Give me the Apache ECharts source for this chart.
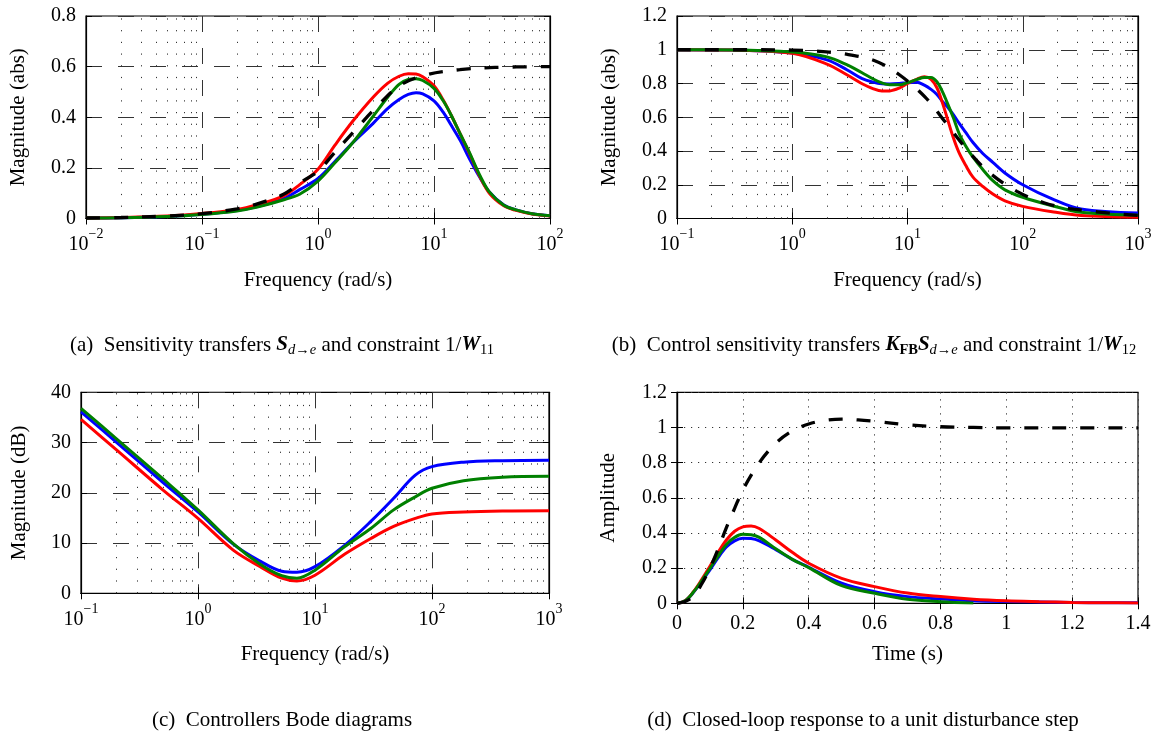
<!DOCTYPE html>
<html><head><meta charset="utf-8">
<script src="https://cdn.jsdelivr.net/npm/echarts@6/dist/echarts.min.js"></script>
<style>html,body{margin:0;padding:0;background:#fff}#c{width:1162px;height:736px}</style>
</head><body><div id="c"></div>
<script>
// ---------- data ----------
// (a) sensitivity |S d->e|
const freqA   = [0.01,0.02,0.05,0.1,0.2,0.3,0.5,0.7,1,1.4,2,3,4,5,6,7,8,10,12,14,17,20,25,30,40,50,70,100];
const sensBlue  = [0.002,0.003,0.008,0.017,0.032,0.047,0.078,0.115,0.158,0.225,0.3,0.377,0.435,0.47,0.49,0.497,0.492,0.465,0.42,0.37,0.305,0.24,0.16,0.105,0.053,0.035,0.019,0.011];
const sensRed   = [0.002,0.004,0.01,0.02,0.036,0.055,0.088,0.135,0.195,0.29,0.385,0.48,0.535,0.562,0.572,0.571,0.56,0.524,0.468,0.41,0.33,0.262,0.163,0.1,0.05,0.033,0.018,0.01];
const sensGreen = [0.002,0.003,0.008,0.016,0.03,0.045,0.073,0.097,0.148,0.22,0.3,0.405,0.48,0.53,0.549,0.552,0.545,0.514,0.465,0.41,0.33,0.265,0.168,0.105,0.052,0.035,0.019,0.011];
const freqAW  = [0.01,0.02,0.05,0.1,0.2,0.3,0.5,0.75,1,1.36,2.08,3.1,5.1,8.6,16.7,33.6,100];
const sensW11 = [0.002,0.004,0.01,0.019,0.038,0.058,0.095,0.15,0.186,0.255,0.348,0.434,0.526,0.568,0.588,0.597,0.6];

// (b) control sensitivity |K_FB S d->e|
const freqB   = [0.1,0.3,1,2,3,4,5,6,7,8.5,10,12,14,16,18,20,22,25,28,32,37,45,55,70,100,180,320,1000];
const ctrlBlue  = [1,0.998,0.98,0.94,0.88,0.83,0.808,0.798,0.797,0.8,0.805,0.807,0.79,0.765,0.735,0.695,0.665,0.615,0.565,0.51,0.45,0.385,0.333,0.27,0.2,0.116,0.056,0.032];
const ctrlRed   = [1,0.998,0.979,0.915,0.85,0.8,0.77,0.755,0.756,0.773,0.8,0.825,0.84,0.825,0.775,0.69,0.6,0.478,0.39,0.315,0.245,0.19,0.145,0.105,0.072,0.04,0.018,0.008];
const ctrlGreen = [1,0.999,0.987,0.958,0.91,0.865,0.828,0.803,0.792,0.792,0.805,0.823,0.836,0.836,0.81,0.755,0.69,0.597,0.505,0.43,0.363,0.29,0.224,0.17,0.126,0.076,0.037,0.02];
const freqBW  = [0.1,0.5,1,1.6,2.85,5.2,8.5,14.3,21.7,33.4,50.8,89,155,276,1000];
const ctrlW12 = [1,1,0.998,0.992,0.975,0.935,0.852,0.718,0.564,0.402,0.274,0.161,0.092,0.055,0.018];

// (c) controllers Bode magnitude (dB)
const freqC   = [0.1,0.2,0.5,1,2,3.4,5.2,7,10,18,30,47,72,100,186,400,1000];
const bodeBlue  = [36.1,30.1,22.1,16.2,9.8,6.4,4.4,4.2,5.3,9.6,14.3,18.9,23.5,25.2,26.1,26.4,26.5];
const bodeRed   = [34.6,28.6,20.6,14.9,8.6,5.3,3.0,2.45,3.6,7.8,10.9,13.3,14.9,15.8,16.2,16.4,16.45];
const bodeGreen = [36.8,30.8,22.8,16.6,9.9,5.8,3.5,3.0,4.6,9.3,12.9,16.6,19.2,20.9,22.4,23.1,23.3];

// (d) closed-loop disturbance step response
const timeD   = [0,0.025,0.05,0.075,0.1,0.125,0.15,0.175,0.2,0.225,0.25,0.3,0.35,0.4,0.5,0.6,0.7,0.8,0.9,1.0,1.1,1.2,1.3,1.4];
const stepBlue  = [0,0.014,0.062,0.125,0.19,0.26,0.32,0.355,0.37,0.368,0.355,0.305,0.25,0.205,0.114,0.066,0.038,0.025,0.015,0.01,0.007,0.004,0.003,0.003];
const stepRed   = [0,0.015,0.066,0.135,0.21,0.29,0.36,0.41,0.435,0.44,0.425,0.36,0.29,0.228,0.142,0.095,0.058,0.038,0.023,0.014,0.009,0.005,0.003,0.002];
const stepGreen = [0,0.014,0.064,0.128,0.198,0.27,0.335,0.375,0.392,0.39,0.375,0.31,0.25,0.203,0.1,0.057,0.023,0.009,0.001];
const timeDW  = [0,0.025,0.05,0.075,0.1,0.125,0.15,0.175,0.2,0.25,0.3,0.35,0.4,0.45,0.5,0.55,0.6,0.7,0.8,0.9,1.0,1.2,1.4];
const stepRef = [0,0.01,0.04,0.11,0.2,0.31,0.43,0.54,0.645,0.8,0.91,0.98,1.02,1.04,1.047,1.043,1.035,1.015,1.004,1.0,0.998,0.998,0.998];

// tick values [min, max, interval]
const yTicksA = [0,0.8,0.2], yTicksB = [0,1.2,0.2], yTicksC = [0,40,10], yTicksD = [0,1.2,0.2], xTicksD = [0,1.4,0.2];

// ---------- chart ----------
const FONT = 'Liberation Serif';
const BLUE = '#0000ff', RED = '#ff0000', GREEN = '#008000';
const LAB = 20, SUP = 14, NAME = 21, CAP = 21, CAPSUB = 14.5;
const zip = (xs, ys) => ys.map((y, i) => [xs[i], y]);
function minorDecades(lo, hi) { const out = []; for (let e = lo; e < hi; e++) for (let m = 2; m <= 9; m++) out.push(m * Math.pow(10, e)); return out; }
const MINUS = '\u2212';

const grids = [
  {left: 86, top: 16, width: 464, height: 202.5},
  {left: 677, top: 16, width: 461, height: 202.5},
  {left: 81, top: 392.3, width: 468, height: 201},
  {left: 677, top: 392.3, width: 461, height: 211}
].map(g => Object.assign({show: true, borderColor: '#000', borderWidth: 1.2, backgroundColor: 'transparent', outerBoundsMode: 'none', containLabel: false}, g));

const majorDash = {color: '#333', width: 1, type: [16, 16]};
const dotGrid = {color: '#333', width: 1, type: [1.2, 5.8]};
const axisLineS = {show: true, lineStyle: {color: '#000', width: 1.2}};
const tickS = {show: true, inside: true, length: 6, lineStyle: {color: '#000', width: 1}};
const nameS = {fontFamily: FONT, fontSize: NAME, color: '#000'};

function logX(i, min, max, name, gap) {
  return {
    type: 'log', logBase: 10, gridIndex: i, min: min, max: max,
    axisLine: axisLineS, axisTick: tickS,
    axisLabel: {
      margin: 9,
      formatter: v => { const e = Math.round(Math.log10(v)); return '{b|10}{s|' + (e < 0 ? MINUS + (-e) : e) + '}'; },
      rich: {
        b: {fontFamily: FONT, fontSize: LAB, lineHeight: 27, verticalAlign: 'bottom', color: '#000'},
        s: {fontFamily: FONT, fontSize: SUP, lineHeight: 14, verticalAlign: 'top', color: '#000'}
      }
    },
    splitLine: {show: true, lineStyle: majorDash},
    name: name, nameLocation: 'middle', nameGap: gap, nameTextStyle: nameS
  };
}
function valY(i, t, name, gap, split) {
  return {
    type: 'value', gridIndex: i, min: t[0], max: t[1], interval: t[2],
    axisLine: axisLineS, axisTick: tickS,
    axisLabel: {margin: 10, fontFamily: FONT, fontSize: LAB, color: '#000'},
    splitLine: {show: true, lineStyle: split},
    name: name, nameLocation: 'middle', nameGap: gap, nameTextStyle: nameS
  };
}
function topX(i, base) {
  return Object.assign({}, base, {position: 'top', axisLabel: {show: false}, splitLine: {show: false}, name: '', gridIndex: i});
}
function rightY(i, base) {
  return Object.assign({}, base, {position: 'right', axisLabel: {show: false}, splitLine: {show: false}, name: '', gridIndex: i});
}

const xA = logX(0, 0.01, 100, 'Frequency (rad/s)', 51);
const xB = logX(1, 0.1, 1000, 'Frequency (rad/s)', 51);
const xC = logX(2, 0.1, 1000, 'Frequency (rad/s)', 51);
const xD = {
  type: 'value', gridIndex: 3, min: xTicksD[0], max: xTicksD[1], interval: xTicksD[2],
  axisLine: axisLineS, axisTick: tickS,
  axisLabel: {margin: 10, fontFamily: FONT, fontSize: LAB, color: '#000'},
  splitLine: {show: true, lineStyle: dotGrid},
  name: 'Time (s)', nameLocation: 'middle', nameGap: 41, nameTextStyle: nameS
};
const yA = valY(0, yTicksA, 'Magnitude (abs)', 57, majorDash);
const yB = valY(1, yTicksB, 'Magnitude (abs)', 57, majorDash);
const yC = valY(2, yTicksC, 'Magnitude (dB)', 51, majorDash);
const yD = valY(3, yTicksD, 'Amplitude', 58, dotGrid);

function minorSeries(i, lo, hi, xmin, ymin) {
  return {
    type: 'line', xAxisIndex: i, yAxisIndex: i, data: [[xmin, ymin]], showSymbol: false, silent: true, z: 1,
    lineStyle: {width: 0, opacity: 0},
    markLine: {
      silent: true, z: 1, symbol: ['none', 'none'], label: {show: false}, animation: false,
      emphasis: {disabled: true},
      lineStyle: {color: '#333', width: 1, type: [1.2, 10.5]},
      data: minorDecades(lo, hi).map(v => ({xAxis: v}))
    }
  };
}
function curve(i, xs, ys, color, dashed) {
  return {
    type: 'line', xAxisIndex: i, yAxisIndex: i, data: zip(xs, ys), showSymbol: false, smooth: 0.35, silent: true,
    z: dashed ? 6 : 3,
    lineStyle: {color: color, width: dashed ? 3.3 : 3, type: dashed ? [14, 14] : 'solid'}
  };
}

const capRich = {
  bi: {fontFamily: FONT, fontSize: CAP, lineHeight: 26, fontStyle: 'italic', fontWeight: 'bold', color: '#000'},
  sub: {fontFamily: FONT, fontSize: CAPSUB, lineHeight: 14, fontStyle: 'italic', verticalAlign: 'bottom', color: '#000'},
  subn: {fontFamily: FONT, fontSize: CAPSUB, lineHeight: 14, verticalAlign: 'bottom', color: '#000'},
  bsub: {fontFamily: FONT, fontSize: CAPSUB, lineHeight: 14, fontWeight: 'bold', verticalAlign: 'bottom', color: '#000'}
};
function caption(text, x, y) {
  return {text: text, left: x, top: y, textAlign: 'center', padding: 0,
    textStyle: {fontFamily: FONT, fontSize: CAP, fontWeight: 'normal', color: '#000', lineHeight: 26, rich: capRich}};
}

const option = {
  animation: false,
  backgroundColor: '#fff',
  title: [
    caption('(a)  Sensitivity transfers {bi|S}{sub|d\u2192e} and constraint 1/{bi|W}{subn|11}', 282, 332),
    caption('(b)  Control sensitivity transfers {bi|K}{bsub|FB}{bi|S}{sub|d\u2192e} and constraint 1/{bi|W}{subn|12}', 874, 332),
    caption('(c)  Controllers Bode diagrams', 282, 707),
    caption('(d)  Closed-loop response to a unit disturbance step', 863, 707)
  ],
  grid: grids,
  xAxis: [xA, xB, xC, xD, topX(0, xA), topX(1, xB), topX(2, xC), topX(3, xD)],
  yAxis: [yA, yB, yC, yD, rightY(0, yA), rightY(1, yB), rightY(2, yC), rightY(3, yD)],
  series: [
    minorSeries(0, -2, 2, 0.01, 0),
    minorSeries(1, -1, 3, 0.1, 0),
    minorSeries(2, -1, 3, 0.1, 0),
    curve(0, freqA, sensBlue, BLUE), curve(0, freqA, sensRed, RED), curve(0, freqA, sensGreen, GREEN), curve(0, freqAW, sensW11, '#000', true),
    curve(1, freqB, ctrlBlue, BLUE), curve(1, freqB, ctrlRed, RED), curve(1, freqB, ctrlGreen, GREEN), curve(1, freqBW, ctrlW12, '#000', true),
    curve(2, freqC, bodeBlue, BLUE), curve(2, freqC, bodeRed, RED), curve(2, freqC, bodeGreen, GREEN),
    curve(3, timeD, stepBlue, BLUE), curve(3, timeD, stepRed, RED), curve(3, timeD, stepGreen, GREEN), curve(3, timeDW, stepRef, '#000', true)
  ]
};
const chart = echarts.init(document.getElementById('c'), null, {renderer: 'canvas'});
chart.setOption(option);
</script></body></html>
